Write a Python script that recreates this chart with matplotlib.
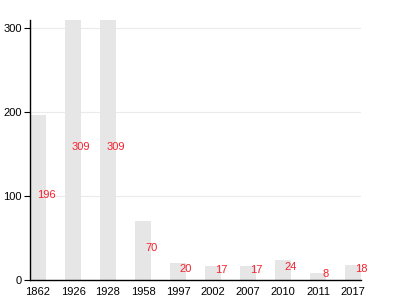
import matplotlib
matplotlib.use('Agg')
import matplotlib.pyplot as plt
import numpy as np

plt.rcParams['font.family'] = ['Liberation Sans', 'DejaVu Sans']

years = ['1862', '1926', '1928', '1958', '1997', '2002', '2007', '2010', '2011', '2017']
values = [196, 309, 309, 70, 20, 17, 17, 24, 8, 18]

BAR = '#e6e6e6'
LABEL = '#f5212f'
GRID = '#ebebeb'

fig = plt.figure(figsize=(4, 3), dpi=100)
ax = fig.add_axes([0.075, 0.0667, 0.8275, 0.8667])

x = np.arange(len(years))
w = 0.46
ax.bar(x, values, width=w, color=BAR, zorder=2)
for xi, v in zip(x, values):
    ax.text(xi + w / 2, v / 2, str(v), ha='center', va='baseline',
            fontsize=8, color=LABEL, zorder=3)

ax.set_xlim(-w / 2, len(years) - 1 + w / 2)
ax.set_ylim(0, 309)
ax.set_xticks(x)
ax.set_xticklabels(years)
ax.set_yticks([0, 100, 200, 300])
ax.tick_params(axis='x', length=0, pad=5, labelsize=8)
ax.tick_params(axis='y', length=4, width=0.8, pad=2, labelsize=8)

for y in [100, 200, 300]:
    ax.axhline(y, color=GRID, linewidth=0.8, zorder=1)

ax.spines['top'].set_visible(False)
ax.spines['right'].set_visible(False)
ax.spines['left'].set_linewidth(1)
ax.spines['bottom'].set_linewidth(1)

fig.savefig('out.png', dpi=100)
